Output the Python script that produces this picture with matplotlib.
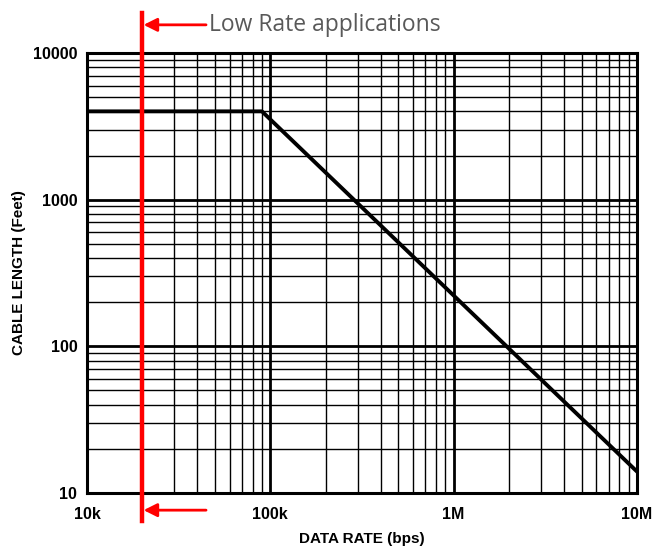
import numpy as np
import matplotlib
matplotlib.use('Agg')
import matplotlib.pyplot as plt
from matplotlib.ticker import FixedLocator, FixedFormatter, LogLocator, NullFormatter

# cable length vs data rate
rate = [1e4, 9e4, 1e7]
length = [4000, 4000, 14]

x_ticks = [1e4, 1e5, 1e6, 1e7]
x_labels = ['10k', '100k', '1M', '10M']
y_ticks = [10, 100, 1000, 10000]
y_labels = ['10', '100', '1000', '10000']

low_rate = 2e4
arrow_tail = 4.46e4

fig = plt.figure(figsize=(6.53, 5.49), dpi=100)
ax = fig.add_axes([87/653, 1 - 493/549, 550/653, 440/549])

ax.plot(rate, length, color='black', lw=2.8, zorder=5)

ax.set_xscale('log')
ax.set_yscale('log')
ax.set_xlim(1e4, 1e7)
ax.set_ylim(10, 10000)

ax.xaxis.set_major_locator(FixedLocator(x_ticks))
ax.xaxis.set_major_formatter(FixedFormatter(x_labels))
ax.yaxis.set_major_locator(FixedLocator(y_ticks))
ax.yaxis.set_major_formatter(FixedFormatter(y_labels))
ax.xaxis.set_minor_locator(LogLocator(base=10, subs=np.arange(2, 10)))
ax.yaxis.set_minor_locator(LogLocator(base=10, subs=np.arange(2, 10)))
ax.xaxis.set_minor_formatter(NullFormatter())
ax.yaxis.set_minor_formatter(NullFormatter())

ax.grid(which='major', color='black', lw=2.0)
ax.grid(which='minor', color='black', lw=1.0)
ax.tick_params(axis='x', which='both', length=0, pad=10)
ax.tick_params(axis='y', which='both', length=0, pad=7)
for lab in ax.get_xticklabels() + ax.get_yticklabels():
    lab.set_fontfamily('Liberation Sans')
    lab.set_fontweight('bold')
    lab.set_fontsize(11.5)
for s in ax.spines.values():
    s.set_linewidth(2.2)

ax.set_xlabel('DATA RATE (bps)', fontfamily='Liberation Sans', fontweight='bold', fontsize=11, labelpad=7)
ax.set_ylabel('CABLE LENGTH (Feet)', fontfamily='Liberation Sans', fontweight='bold', fontsize=11, labelpad=5)

# red marker for low rate applications
ax.axvline(low_rate, ymin=-0.064, ymax=1.09, color='red', lw=3.2, clip_on=False, zorder=6)
tr = ax.get_xaxis_transform()
ax.annotate('', xy=(low_rate, 1.064), xytext=(arrow_tail, 1.064), xycoords=tr, textcoords=tr,
            arrowprops=dict(arrowstyle='-|>', color='red', lw=2, mutation_scale=20, shrinkA=0, shrinkB=1),
            annotation_clip=False)
ax.text(arrow_tail * 1.04, 1.064, 'Low Rate applications', transform=tr, ha='left', va='center',
        fontfamily='Open Sans', fontsize=16.5, color='#595959')
ax.annotate('', xy=(low_rate, -0.039), xytext=(arrow_tail, -0.039), xycoords=tr, textcoords=tr,
            arrowprops=dict(arrowstyle='-|>', color='red', lw=2, mutation_scale=20, shrinkA=0, shrinkB=1),
            annotation_clip=False)

fig.savefig('out.png', dpi=100, facecolor='white')
